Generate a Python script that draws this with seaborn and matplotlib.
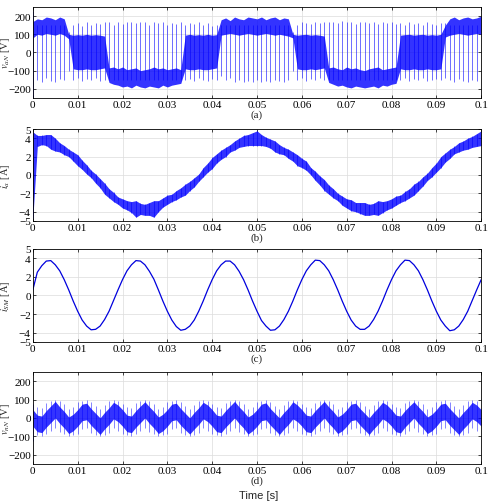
import numpy as np
import matplotlib
matplotlib.use("Agg")
import matplotlib.pyplot as plt
import seaborn as sns

sns.set_theme(style="whitegrid", rc={
    "axes.edgecolor": "black",
    "axes.linewidth": 0.6,
    "grid.color": "#dcdcdc",
    "grid.linewidth": 0.5,
    "xtick.bottom": True, "ytick.left": True,
    "xtick.top": True, "ytick.right": True,
})
plt.rcParams['font.family'] = ['Liberation Serif', 'DejaVu Serif']
plt.rcParams['mathtext.fontset'] = 'stix'

# time base: one reading per millisecond, 0 .. 0.1 s
t = np.arange(101) * 0.001

# (a) phase voltage v_aN [V]: dense band + switching spikes read per ms
vaN_core_hi = [170, 185, 180, 195, 190, 180, 195, 185, 100,
               95, 98, 95, 100, 95, 98, 95, 90,
               -85, -80, -90, -80, -95, -90, -85, -100, -95, -90, -80, -90, -85, -95, -90, -85, -95,
               95, 100, 95, 98, 95, 100, 95, 98,
               180, 190, 175, 195, 185, 180, 195, 190, 185, 195, 180, 190, 195, 180, 190, 185,
               100,
               95, 98, 100, 95, 98, 95, 90,
               -85, -80, -90, -95, -80, -90, -85, -95, -100, -90, -85, -80, -95, -90, -85, -80,
               95, 98, 100, 95, 98, 100, 95, 98, 95, 100,
               150,
               185, 195, 180, 190, 195, 185, 190, 200]
vaN_core_lo = [80, 100, 95, 105, 100, 95, 105, 95, 75,
               -90, -95, -95, -90, -95, -95, -90, -85,
               -165, -175, -180, -190, -185, -195, -180, -190, -195, -185, -190, -195, -180, -190, -180, -175, -170,
               -90, -95, -95, -90, -95, -95, -90, -85,
               95, 100, 105, 100, 95, 100, 105, 100, 95, 100, 105, 100, 95, 100, 95, 90,
               80,
               -90, -95, -95, -90, -95, -90, -85,
               -165, -175, -185, -180, -190, -195, -185, -190, -195, -190, -185, -195, -180, -185, -175, -170,
               -90, -95, -95, -90, -95, -95, -90, -95, -95, -90,
               85,
               95, 100, 105, 100, 95, 100, 105, 100]
vaN_spk_hi = [230, 150, 150, 150, 150, 150, 150, 150, 110,
              150, 160, 145, 165, 150, 160, 155, 165,
              165, 150, 170, 155, 165, 170, 160, 170, 165, 150, 170, 160, 165, 150, 160, 155, 165,
              150, 160, 155, 165, 150, 160, 145, 150,
              150, 150, 150, 150, 150, 150, 150, 150, 150, 150, 150, 150, 150, 150, 150, 150,
              110,
              150, 165, 160, 155, 170, 160, 165,
              165, 170, 160, 175, 165, 170, 155, 170, 165, 160, 170, 155, 165, 160, 170, 155,
              160, 150, 165, 155, 160, 150, 165, 155, 150, 160,
              160,
              150, 150, 150, 150, 150, 150, 150, 150]
vaN_spk_lo = [-245, -150, -160, -140, -155, -160, -145, -150, -100,
              -150, -140, -155, -145, -150, -140, -155, -150,
              -150, -150, -150, -150, -150, -150, -150, -150, -150, -150, -150, -150, -150, -150, -150, -150, -150,
              -150, -145, -155, -140, -150, -155, -145, -150,
              -130, -150, -140, -160, -150, -165, -155, -160, -150, -165, -155, -160, -150, -155, -160, -150,
              -100,
              -150, -140, -155, -145, -150, -140, -150,
              -150, -150, -150, -150, -150, -150, -150, -150, -150, -150, -150, -150, -150, -150, -150, -150,
              -150, -140, -155, -145, -150, -140, -155, -150, -145, -150,
              -140,
              -150, -160, -145, -155, -160, -150, -155, -100]

# (b) phase current i_a [A]: band centre and half width
ia_mid = [0.0, 3.7, 3.8, 3.8, 3.6, 3.3, 3.0, 2.7, 2.4, 2.0,
          1.6, 1.1, 0.6, 0.1, -0.4, -0.9, -1.5, -2.0, -2.4, -2.8,
          -3.1, -3.3, -3.5, -3.7, -3.7, -3.8, -3.7, -3.7, -3.4, -3.0,
          -2.7, -2.5, -2.2, -1.9, -1.6, -1.2, -0.8, -0.3, 0.3, 0.8,
          1.3, 1.8, 2.2, 2.5, 2.9, 3.2, 3.5, 3.7, 3.8, 3.9,
          4.0, 3.8, 3.6, 3.4, 3.1, 2.8, 2.6, 2.3, 2.0, 1.6,
          1.3, 1.0, 0.4, -0.1, -0.6, -1.1, -1.6, -2.0, -2.4, -2.8,
          -3.1, -3.3, -3.5, -3.6, -3.7, -3.8, -3.7, -3.6, -3.5, -3.3,
          -3.1, -2.8, -2.6, -2.3, -2.0, -1.6, -1.2, -0.7, -0.2, 0.3,
          0.8, 1.4, 1.9, 2.3, 2.7, 3.0, 3.2, 3.4, 3.6, 3.8,
          4.0]
ia_half = [4.7, 0.6, 0.5, 0.6, 0.8, 0.7, 0.5, 0.5, 0.4, 0.5,
           0.6, 0.5, 0.5, 0.4, 0.5, 0.5, 0.6, 0.5, 0.5, 0.4,
           0.5, 0.5, 0.6, 0.9, 0.6, 0.6, 0.7, 0.9, 0.6, 0.5,
           0.5, 0.4, 0.5, 0.5, 0.6, 0.5, 0.5, 0.4, 0.5, 0.5,
           0.6, 0.5, 0.5, 0.5, 0.4, 0.5, 0.5, 0.6, 0.6, 0.7,
           0.8, 0.6, 0.5, 0.5, 0.6, 0.5, 0.4, 0.5, 0.5, 0.6,
           0.5, 0.5, 0.4, 0.5, 0.5, 0.6, 0.5, 0.5, 0.4, 0.5,
           0.5, 0.6, 0.5, 0.6, 0.7, 0.6, 0.6, 0.8, 0.6, 0.5,
           0.5, 0.5, 0.4, 0.5, 0.5, 0.6, 0.5, 0.5, 0.4, 0.5,
           0.5, 0.6, 0.5, 0.5, 0.4, 0.5, 0.5, 0.6, 0.6, 0.7,
           0.8]

# (c) circulating current i_SM [A]
isum = [0.6, 2.5, 3.2, 3.7, 3.75, 3.3, 2.65, 1.7, 0.6, -0.6,
        -1.7, -2.65, -3.3, -3.7, -3.65, -3.3, -2.6, -1.7, -0.55, 0.6,
        1.7, 2.65, 3.3, 3.75, 3.7, 3.3, 2.6, 1.75, 0.6, -0.6,
        -1.7, -2.65, -3.35, -3.75, -3.65, -3.3, -2.65, -1.7, -0.6, 0.6,
        1.7, 2.65, 3.3, 3.7, 3.7, 3.3, 2.6, 1.7, 0.6, -0.6,
        -1.7, -2.7, -3.3, -3.75, -3.7, -3.3, -2.6, -1.7, -0.6, 0.6,
        1.7, 2.65, 3.3, 3.8, 3.75, 3.3, 2.65, 1.7, 0.6, -0.6,
        -1.7, -2.65, -3.3, -3.65, -3.65, -3.3, -2.6, -1.7, -0.6, 0.6,
        1.7, 2.65, 3.3, 3.8, 3.75, 3.3, 2.65, 1.7, 0.6, -0.6,
        -1.7, -2.65, -3.3, -3.8, -3.7, -3.3, -2.6, -1.7, -0.55, 0.6,
        1.7]

# (d) common-mode voltage v_nN [V]
vnN_core_hi = [45, 15, 10, 40, 65, 90, 60, 35, 5, 20, 45, 75, 80, 50, 25, 0, 30, 55, 85, 70,
               45, 15, 10, 40, 65, 88, 60, 35, 5, 20, 45, 75, 80, 50, 25, 0, 30, 55, 85, 70,
               45, 15, 10, 40, 65, 90, 60, 35, 5, 20, 45, 75, 82, 50, 25, 0, 30, 55, 88, 70,
               45, 15, 10, 40, 65, 90, 60, 35, 5, 20, 45, 75, 80, 50, 25, 0, 30, 55, 85, 70,
               45, 15, 10, 40, 65, 88, 60, 35, 5, 20, 45, 75, 80, 50, 25, 0, 30, 55, 85, 70,
               45]
vnN_core_lo = [-45, -75, -80, -50, -25, 0, -30, -55, -85, -70, -45, -15, -10, -40, -65, -90, -60, -35, -5, -20,
               -45, -75, -80, -50, -25, 0, -30, -55, -85, -70, -45, -15, -10, -40, -65, -88, -60, -35, -5, -20,
               -45, -75, -80, -50, -25, 0, -30, -55, -88, -70, -45, -15, -10, -40, -65, -90, -60, -35, -5, -20,
               -45, -75, -80, -50, -25, 0, -30, -55, -85, -70, -45, -15, -10, -40, -65, -90, -60, -35, -5, -20,
               -45, -75, -82, -50, -25, 0, -30, -55, -85, -70, -45, -15, -10, -40, -65, -90, -60, -35, -5, -20,
               -45]
vnN_spk_hi = [75, 60, 55, 80, 90, 95, 90, 75, 50, 60, 85, 90, 95, 85, 65, 50, 70, 90, 95, 90,
              75, 60, 55, 80, 90, 95, 90, 75, 50, 60, 85, 90, 95, 85, 65, 50, 70, 90, 95, 90,
              75, 60, 55, 80, 90, 95, 90, 75, 50, 60, 85, 90, 95, 85, 65, 50, 70, 90, 95, 90,
              75, 60, 55, 80, 90, 95, 90, 75, 50, 60, 85, 90, 95, 85, 65, 50, 70, 90, 95, 90,
              75, 60, 55, 80, 90, 95, 90, 75, 50, 60, 85, 90, 95, 85, 65, 50, 70, 90, 95, 90,
              75]
vnN_spk_lo = [-125, -95, -100, -90, -70, -55, -75, -90, -100, -95, -85, -60, -55, -80, -95, -100, -95, -80, -55, -70,
              -85, -95, -100, -90, -70, -55, -75, -90, -100, -95, -85, -60, -55, -80, -95, -100, -95, -80, -55, -70,
              -85, -95, -100, -90, -70, -55, -75, -90, -100, -95, -85, -60, -55, -80, -95, -100, -95, -80, -55, -70,
              -85, -95, -100, -90, -70, -55, -75, -90, -100, -95, -85, -60, -55, -80, -95, -100, -95, -80, -55, -70,
              -85, -95, -100, -90, -70, -55, -75, -90, -100, -95, -85, -60, -55, -80, -95, -100, -95, -80, -55, -70,
              -85]

xticks = [0, 0.01, 0.02, 0.03, 0.04, 0.05, 0.06, 0.07, 0.08, 0.09, 0.1]
xtick_labels = ['0', '0.01', '0.02', '0.03', '0.04', '0.05', '0.06', '0.07', '0.08', '0.09', '0.1']

blue = '#0000ff'

fig = plt.figure(figsize=(4.9, 5.02), dpi=100)
rects = [[0.067, 0.803, 0.915, 0.181],
         [0.067, 0.558, 0.915, 0.183],
         [0.067, 0.317, 0.915, 0.185],
         [0.067, 0.074, 0.915, 0.183]]
axes = [fig.add_axes(r) for r in rects]


def style(ax, ylim, yticks, ylabel, tag):
    ax.set_xlim(0, 0.1)
    ax.set_ylim(*ylim)
    ax.set_xticks(xticks)
    ax.set_xticklabels(xtick_labels)
    ax.set_yticks(yticks)
    ax.tick_params(direction='in', length=2.5, width=0.5, labelsize=8, pad=1.5, colors='black')
    ax.set_ylabel(ylabel, fontsize=7.5)
    ax.yaxis.set_label_coords(-0.047, 0.5)
    ax.set_xlabel(tag, fontsize=8, labelpad=0)
    for s in ax.spines.values():
        s.set_color('black')
        s.set_linewidth(0.6)


# (a)
ax = axes[0]
ax.fill_between(t, vaN_core_lo, vaN_core_hi, color=blue, alpha=0.8, lw=0)
ax.vlines(t, vaN_spk_lo, vaN_spk_hi, color=blue, lw=0.5, alpha=0.8)
style(ax, (-250, 250), [-200, -100, 0, 100, 200], r'$v_{aN}$ [V]', '(a)')

# (b)
ia_mid_arr = np.array(ia_mid)
ia_half_arr = np.array(ia_half)
ax = axes[1]
ax.fill_between(t, ia_mid_arr - ia_half_arr, ia_mid_arr + ia_half_arr, color=blue, alpha=0.8, lw=0)
ax.vlines(t, ia_mid_arr - ia_half_arr, ia_mid_arr + ia_half_arr, color=blue, lw=0.4)
style(ax, (-5, 5), [-5, -4, -2, 0, 2, 4, 5], r'$i_{a}$ [A]', '(b)')

# (c)
ax = axes[2]
sns.lineplot(x=t, y=isum, ax=ax, color='#0000dd', lw=0.9)
style(ax, (-5, 5), [-5, -4, -2, 0, 2, 4, 5], r'$i_{SM}$ [A]', '(c)')

# (d)
ax = axes[3]
ax.fill_between(t, vnN_core_lo, vnN_core_hi, color=blue, alpha=0.8, lw=0)
ax.vlines(t, vnN_spk_lo, vnN_spk_hi, color=blue, lw=0.45, alpha=0.75)
style(ax, (-250, 250), [-200, -100, 0, 100, 200], r'$v_{nN}$ [V]', '(d)')

fig.text(0.528, 0.002, 'Time [s]', ha='center', va='bottom', fontsize=8,
         family=['Liberation Sans', 'DejaVu Sans'])

fig.savefig('out.png', dpi=100)
